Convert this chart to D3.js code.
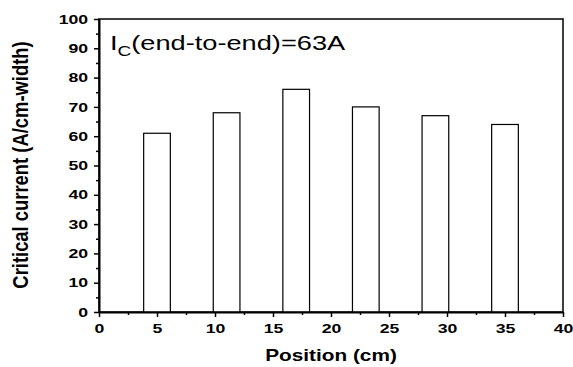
<!DOCTYPE html>
<html>
<head>
<meta charset="utf-8">
<script src="https://cdn.jsdelivr.net/npm/d3@7"></script>
<style>
  body { margin: 0; background: #fff; }
  svg { display: block; }
  .tick text { font-family: "Liberation Sans", Arial, sans-serif; font-weight: bold; font-size: 13px; fill: #000; }
</style>
</head>
<body>
<div id="chart"></div>
<script>
// data
var positions = [5, 11, 17, 23, 29, 35];
var currents = [61, 68, 76, 70, 67, 64];
var xTicks = [0, 5, 10, 15, 20, 25, 30, 35, 40];
var yTicks = [0, 10, 20, 30, 40, 50, 60, 70, 80, 90, 100];

var width = 573,
    height = 367,
    margin = {top: 19, right: 10, bottom: 55, left: 99},
    barW = 2.3, // in cm
    stretch = 1.36; // the original text looks squashed wide

var svg = d3.select('#chart').append('svg')
    .attr('width', width)
    .attr('height', height);

var xScale = d3.scaleLinear()
    .domain([0, 40])
    .range([margin.left, width - margin.right]);

var yScale = d3.scaleLinear()
    .domain([0, 100])
    .range([height - margin.bottom, margin.top]);

// frame
svg.append('rect')
    .attr('x', xScale(0))
    .attr('y', yScale(100))
    .attr('width', xScale(40) - xScale(0))
    .attr('height', yScale(0) - yScale(100))
    .attr('fill', 'none')
    .attr('stroke', '#000')
    .attr('stroke-width', 1.5);

// bars
svg.selectAll('rect.bar').data(currents)
  .enter().append('rect')
    .attr('class', 'bar')
    .attr('x', function(d, i){ return xScale(positions[i] - barW / 2); })
    .attr('width', function(){ return xScale(barW) - xScale(0); })
    .attr('y', function(d){ return yScale(d); })
    .attr('height', function(d){ return yScale(0) - yScale(d); })
    .attr('fill', 'white')
    .attr('stroke', '#000')
    .attr('stroke-width', 1.2);

// minor ticks
var xMinor = d3.range(2.5, 40, 5);
var yMinor = d3.range(5, 100, 10);

svg.append('g')
    .attr('transform', 'translate(0,' + yScale(0) + ')')
    .call(d3.axisBottom(xScale).tickValues(xMinor).tickSize(3).tickFormat(''))
    .call(function(g){ g.select('.domain').remove(); })
    .selectAll('line').attr('stroke-width', 1.5);

svg.append('g')
    .attr('transform', 'translate(' + xScale(0) + ',0)')
    .call(d3.axisLeft(yScale).tickValues(yMinor).tickSize(3).tickFormat(''))
    .call(function(g){ g.select('.domain').remove(); })
    .selectAll('line').attr('stroke-width', 1.5);

// axes
var xAxis = svg.append('g')
    .attr('transform', 'translate(0,' + yScale(0) + ')')
    .call(d3.axisBottom(xScale).tickValues(xTicks).tickSize(5).tickSizeOuter(0).tickPadding(7));
xAxis.select('.domain').attr('stroke-width', 2);
xAxis.selectAll('line').attr('stroke-width', 1.5);
xAxis.selectAll('text').attr('transform', 'scale(' + stretch + ',1)');

var yAxis = svg.append('g')
    .attr('transform', 'translate(' + xScale(0) + ',0)')
    .call(d3.axisLeft(yScale).tickValues(yTicks).tickSize(5).tickSizeOuter(0).tickPadding(3));
yAxis.select('.domain').attr('stroke-width', 2);
yAxis.selectAll('line').attr('stroke-width', 1.5);
yAxis.selectAll('text').attr('transform', 'scale(' + stretch + ',1)');

// axis titles
svg.append('text')
    .attr('transform', 'translate(' + (xScale(0) + xScale(40)) / 2 + ',361) scale(1.3,1)')
    .attr('text-anchor', 'middle')
    .style('font-family', '"Liberation Sans", Arial, sans-serif')
    .style('font-weight', 'bold')
    .style('font-size', '16px')
    .text('Position (cm)');

svg.append('text')
    .attr('transform', 'translate(28,165) rotate(-90) scale(1.15,' + stretch + ')')
    .attr('text-anchor', 'middle')
    .style('font-family', '"Liberation Sans", Arial, sans-serif')
    .style('font-weight', 'bold')
    .style('font-size', '16px')
    .text('Critical current (A/cm-width)');

// annotation
var note = svg.append('text')
    .attr('transform', 'translate(' + (xScale(0) + 11) + ',50) scale(' + stretch + ',1)')
    .style('font-family', '"Liberation Sans", Arial, sans-serif')
    .style('font-size', '20px');
note.append('tspan').text('I');
note.append('tspan').attr('dy', 6).style('font-size', '14px').text('C');
note.append('tspan').attr('dy', -6).text('(end-to-end)=63A');
</script>
</body>
</html>
